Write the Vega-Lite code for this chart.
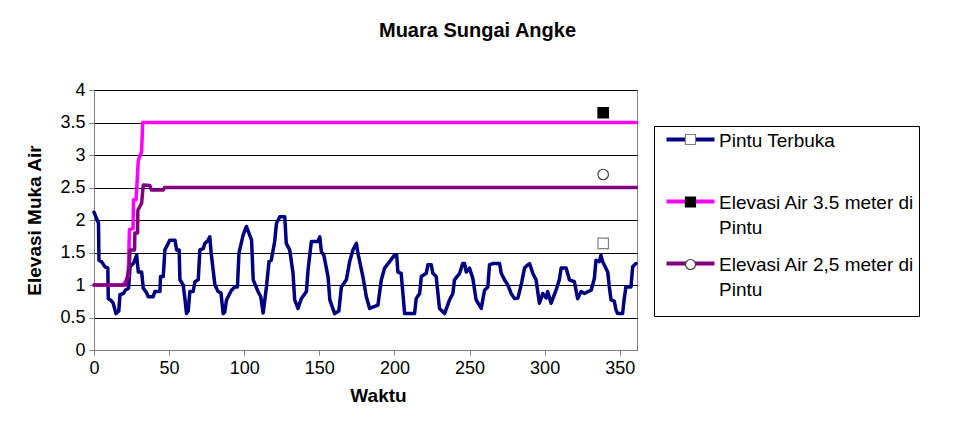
{
  "$schema": "https://vega.github.io/schema/vega-lite/v6.json",
  "width": 543,
  "height": 260,
  "autosize": {"type": "none"},
  "padding": {"left": 94, "top": 90, "right": 317, "bottom": 83},
  "config": {
    "font": "Liberation Sans",
    "view": {"stroke": "#808080", "strokeWidth": 1}
  },
  "title": {
    "text": "Muara Sungai Angke",
    "fontSize": 20,
    "fontWeight": "bold",
    "font": "Liberation Sans",
    "anchor": "middle",
    "dx": 112,
    "offset": 40,
    "color": "#000"
  },
  "datasets": {
    "lines": [
      {"t":0,"elev":2.12,"series":"Pintu Terbuka"},{"t":3,"elev":1.95,"series":"Pintu Terbuka"},{"t":3.3,"elev":1.38,"series":"Pintu Terbuka"},{"t":5,"elev":1.36,"series":"Pintu Terbuka"},{"t":7.3,"elev":1.28,"series":"Pintu Terbuka"},{"t":9.2,"elev":1.26,"series":"Pintu Terbuka"},{"t":9.5,"elev":0.79,"series":"Pintu Terbuka"},{"t":11,"elev":0.77,"series":"Pintu Terbuka"},{"t":12.8,"elev":0.72,"series":"Pintu Terbuka"},{"t":14.6,"elev":0.56,"series":"Pintu Terbuka"},{"t":16.5,"elev":0.6,"series":"Pintu Terbuka"},{"t":17.3,"elev":0.85,"series":"Pintu Terbuka"},{"t":19.7,"elev":0.87,"series":"Pintu Terbuka"},{"t":20.8,"elev":0.92,"series":"Pintu Terbuka"},{"t":23,"elev":0.95,"series":"Pintu Terbuka"},{"t":24,"elev":1.28,"series":"Pintu Terbuka"},{"t":26.2,"elev":1.33,"series":"Pintu Terbuka"},{"t":28.4,"elev":1.46,"series":"Pintu Terbuka"},{"t":29.5,"elev":1.2,"series":"Pintu Terbuka"},{"t":31.7,"elev":1.2,"series":"Pintu Terbuka"},{"t":32.8,"elev":0.95,"series":"Pintu Terbuka"},{"t":35,"elev":0.88,"series":"Pintu Terbuka"},{"t":36.1,"elev":0.82,"series":"Pintu Terbuka"},{"t":39.4,"elev":0.82,"series":"Pintu Terbuka"},{"t":40.5,"elev":0.9,"series":"Pintu Terbuka"},{"t":43.9,"elev":0.9,"series":"Pintu Terbuka"},{"t":44.3,"elev":1.13,"series":"Pintu Terbuka"},{"t":46.1,"elev":1.13,"series":"Pintu Terbuka"},{"t":47.2,"elev":1.54,"series":"Pintu Terbuka"},{"t":49.4,"elev":1.64,"series":"Pintu Terbuka"},{"t":50.5,"elev":1.69,"series":"Pintu Terbuka"},{"t":53.9,"elev":1.69,"series":"Pintu Terbuka"},{"t":55,"elev":1.54,"series":"Pintu Terbuka"},{"t":56.7,"elev":1.54,"series":"Pintu Terbuka"},{"t":57.2,"elev":1.08,"series":"Pintu Terbuka"},{"t":59.4,"elev":1.0,"series":"Pintu Terbuka"},{"t":60.5,"elev":0.79,"series":"Pintu Terbuka"},{"t":61.6,"elev":0.56,"series":"Pintu Terbuka"},{"t":62.7,"elev":0.6,"series":"Pintu Terbuka"},{"t":63.8,"elev":0.9,"series":"Pintu Terbuka"},{"t":66,"elev":0.9,"series":"Pintu Terbuka"},{"t":67.2,"elev":1.05,"series":"Pintu Terbuka"},{"t":69.4,"elev":1.08,"series":"Pintu Terbuka"},{"t":70.5,"elev":1.54,"series":"Pintu Terbuka"},{"t":72.7,"elev":1.56,"series":"Pintu Terbuka"},{"t":73.8,"elev":1.64,"series":"Pintu Terbuka"},{"t":76,"elev":1.69,"series":"Pintu Terbuka"},{"t":77.1,"elev":1.74,"series":"Pintu Terbuka"},{"t":78,"elev":1.49,"series":"Pintu Terbuka"},{"t":80.5,"elev":1.0,"series":"Pintu Terbuka"},{"t":82.6,"elev":0.9,"series":"Pintu Terbuka"},{"t":84.5,"elev":0.88,"series":"Pintu Terbuka"},{"t":86,"elev":0.56,"series":"Pintu Terbuka"},{"t":87,"elev":0.58,"series":"Pintu Terbuka"},{"t":88.2,"elev":0.77,"series":"Pintu Terbuka"},{"t":91.5,"elev":0.92,"series":"Pintu Terbuka"},{"t":93.7,"elev":0.97,"series":"Pintu Terbuka"},{"t":95.5,"elev":0.97,"series":"Pintu Terbuka"},{"t":96.5,"elev":1.49,"series":"Pintu Terbuka"},{"t":99.3,"elev":1.77,"series":"Pintu Terbuka"},{"t":101.5,"elev":1.9,"series":"Pintu Terbuka"},{"t":104.9,"elev":1.69,"series":"Pintu Terbuka"},{"t":106,"elev":1.08,"series":"Pintu Terbuka"},{"t":109.2,"elev":0.9,"series":"Pintu Terbuka"},{"t":111,"elev":0.82,"series":"Pintu Terbuka"},{"t":112.6,"elev":0.57,"series":"Pintu Terbuka"},{"t":114.8,"elev":0.97,"series":"Pintu Terbuka"},{"t":116.5,"elev":1.36,"series":"Pintu Terbuka"},{"t":118,"elev":1.38,"series":"Pintu Terbuka"},{"t":120.3,"elev":1.67,"series":"Pintu Terbuka"},{"t":121.5,"elev":1.95,"series":"Pintu Terbuka"},{"t":123.7,"elev":2.05,"series":"Pintu Terbuka"},{"t":127,"elev":2.05,"series":"Pintu Terbuka"},{"t":128,"elev":1.64,"series":"Pintu Terbuka"},{"t":130.3,"elev":1.54,"series":"Pintu Terbuka"},{"t":132.5,"elev":1.18,"series":"Pintu Terbuka"},{"t":133.6,"elev":0.77,"series":"Pintu Terbuka"},{"t":135.8,"elev":0.64,"series":"Pintu Terbuka"},{"t":138,"elev":0.79,"series":"Pintu Terbuka"},{"t":141.4,"elev":0.9,"series":"Pintu Terbuka"},{"t":142.5,"elev":1.23,"series":"Pintu Terbuka"},{"t":144.7,"elev":1.67,"series":"Pintu Terbuka"},{"t":149,"elev":1.67,"series":"Pintu Terbuka"},{"t":150.3,"elev":1.74,"series":"Pintu Terbuka"},{"t":151.4,"elev":1.51,"series":"Pintu Terbuka"},{"t":153,"elev":1.46,"series":"Pintu Terbuka"},{"t":155.8,"elev":1.13,"series":"Pintu Terbuka"},{"t":157,"elev":0.77,"series":"Pintu Terbuka"},{"t":160.2,"elev":0.56,"series":"Pintu Terbuka"},{"t":163,"elev":0.6,"series":"Pintu Terbuka"},{"t":164.7,"elev":0.97,"series":"Pintu Terbuka"},{"t":168,"elev":1.08,"series":"Pintu Terbuka"},{"t":170.2,"elev":1.36,"series":"Pintu Terbuka"},{"t":172.4,"elev":1.54,"series":"Pintu Terbuka"},{"t":174.7,"elev":1.64,"series":"Pintu Terbuka"},{"t":175.7,"elev":1.49,"series":"Pintu Terbuka"},{"t":179,"elev":1.13,"series":"Pintu Terbuka"},{"t":181.3,"elev":0.82,"series":"Pintu Terbuka"},{"t":183.5,"elev":0.64,"series":"Pintu Terbuka"},{"t":189,"elev":0.69,"series":"Pintu Terbuka"},{"t":191.3,"elev":1.08,"series":"Pintu Terbuka"},{"t":193.5,"elev":1.26,"series":"Pintu Terbuka"},{"t":196.8,"elev":1.36,"series":"Pintu Terbuka"},{"t":200,"elev":1.46,"series":"Pintu Terbuka"},{"t":201.5,"elev":1.46,"series":"Pintu Terbuka"},{"t":202.3,"elev":1.2,"series":"Pintu Terbuka"},{"t":204.5,"elev":1.18,"series":"Pintu Terbuka"},{"t":206.8,"elev":0.56,"series":"Pintu Terbuka"},{"t":213.4,"elev":0.56,"series":"Pintu Terbuka"},{"t":214.5,"elev":0.79,"series":"Pintu Terbuka"},{"t":216.8,"elev":0.87,"series":"Pintu Terbuka"},{"t":217.9,"elev":1.13,"series":"Pintu Terbuka"},{"t":221.2,"elev":1.18,"series":"Pintu Terbuka"},{"t":222.3,"elev":1.31,"series":"Pintu Terbuka"},{"t":224.5,"elev":1.31,"series":"Pintu Terbuka"},{"t":225.6,"elev":1.18,"series":"Pintu Terbuka"},{"t":227.8,"elev":1.13,"series":"Pintu Terbuka"},{"t":230,"elev":0.64,"series":"Pintu Terbuka"},{"t":233.4,"elev":0.56,"series":"Pintu Terbuka"},{"t":236.7,"elev":0.77,"series":"Pintu Terbuka"},{"t":238.9,"elev":0.87,"series":"Pintu Terbuka"},{"t":240,"elev":1.08,"series":"Pintu Terbuka"},{"t":243.4,"elev":1.18,"series":"Pintu Terbuka"},{"t":245.5,"elev":1.33,"series":"Pintu Terbuka"},{"t":246.7,"elev":1.33,"series":"Pintu Terbuka"},{"t":247.8,"elev":1.2,"series":"Pintu Terbuka"},{"t":250,"elev":1.26,"series":"Pintu Terbuka"},{"t":252.2,"elev":1.1,"series":"Pintu Terbuka"},{"t":254.4,"elev":0.77,"series":"Pintu Terbuka"},{"t":257.8,"elev":0.64,"series":"Pintu Terbuka"},{"t":260,"elev":0.92,"series":"Pintu Terbuka"},{"t":262.2,"elev":0.97,"series":"Pintu Terbuka"},{"t":263.3,"elev":1.31,"series":"Pintu Terbuka"},{"t":265.4,"elev":1.33,"series":"Pintu Terbuka"},{"t":270,"elev":1.33,"series":"Pintu Terbuka"},{"t":271.1,"elev":1.18,"series":"Pintu Terbuka"},{"t":273.3,"elev":1.08,"series":"Pintu Terbuka"},{"t":275.5,"elev":1.0,"series":"Pintu Terbuka"},{"t":277.7,"elev":0.87,"series":"Pintu Terbuka"},{"t":280,"elev":0.79,"series":"Pintu Terbuka"},{"t":282.2,"elev":0.8,"series":"Pintu Terbuka"},{"t":284.4,"elev":1.0,"series":"Pintu Terbuka"},{"t":286.6,"elev":1.26,"series":"Pintu Terbuka"},{"t":288.8,"elev":1.31,"series":"Pintu Terbuka"},{"t":290,"elev":1.33,"series":"Pintu Terbuka"},{"t":292.1,"elev":1.18,"series":"Pintu Terbuka"},{"t":294.3,"elev":1.08,"series":"Pintu Terbuka"},{"t":296.5,"elev":0.72,"series":"Pintu Terbuka"},{"t":298.8,"elev":0.87,"series":"Pintu Terbuka"},{"t":301,"elev":0.8,"series":"Pintu Terbuka"},{"t":302,"elev":0.9,"series":"Pintu Terbuka"},{"t":304.3,"elev":0.72,"series":"Pintu Terbuka"},{"t":307.6,"elev":0.92,"series":"Pintu Terbuka"},{"t":309.8,"elev":1.08,"series":"Pintu Terbuka"},{"t":311,"elev":1.26,"series":"Pintu Terbuka"},{"t":314.3,"elev":1.26,"series":"Pintu Terbuka"},{"t":316.5,"elev":1.08,"series":"Pintu Terbuka"},{"t":319.8,"elev":1.05,"series":"Pintu Terbuka"},{"t":322,"elev":0.79,"series":"Pintu Terbuka"},{"t":324.3,"elev":0.9,"series":"Pintu Terbuka"},{"t":326.5,"elev":0.87,"series":"Pintu Terbuka"},{"t":329,"elev":0.9,"series":"Pintu Terbuka"},{"t":331,"elev":0.92,"series":"Pintu Terbuka"},{"t":333.1,"elev":1.1,"series":"Pintu Terbuka"},{"t":334.2,"elev":1.38,"series":"Pintu Terbuka"},{"t":336.4,"elev":1.36,"series":"Pintu Terbuka"},{"t":337.5,"elev":1.46,"series":"Pintu Terbuka"},{"t":338.6,"elev":1.36,"series":"Pintu Terbuka"},{"t":342,"elev":1.2,"series":"Pintu Terbuka"},{"t":343.1,"elev":0.97,"series":"Pintu Terbuka"},{"t":344.2,"elev":0.77,"series":"Pintu Terbuka"},{"t":346.4,"elev":0.75,"series":"Pintu Terbuka"},{"t":347.5,"elev":0.62,"series":"Pintu Terbuka"},{"t":348.6,"elev":0.56,"series":"Pintu Terbuka"},{"t":351.9,"elev":0.56,"series":"Pintu Terbuka"},{"t":353,"elev":0.79,"series":"Pintu Terbuka"},{"t":354.1,"elev":0.97,"series":"Pintu Terbuka"},{"t":357.5,"elev":0.97,"series":"Pintu Terbuka"},{"t":358.6,"elev":1.28,"series":"Pintu Terbuka"},{"t":360.8,"elev":1.33,"series":"Pintu Terbuka"},
      {"t":0,"elev":1.0,"series":"Elevasi Air 3.5 meter di Pintu"},{"t":19.5,"elev":1.0,"series":"Elevasi Air 3.5 meter di Pintu"},{"t":22.8,"elev":1.13,"series":"Elevasi Air 3.5 meter di Pintu"},{"t":23.6,"elev":1.85,"series":"Elevasi Air 3.5 meter di Pintu"},{"t":26,"elev":1.87,"series":"Elevasi Air 3.5 meter di Pintu"},{"t":26.3,"elev":2.31,"series":"Elevasi Air 3.5 meter di Pintu"},{"t":28,"elev":2.31,"series":"Elevasi Air 3.5 meter di Pintu"},{"t":29.5,"elev":2.92,"series":"Elevasi Air 3.5 meter di Pintu"},{"t":31.7,"elev":3.05,"series":"Elevasi Air 3.5 meter di Pintu"},{"t":32.4,"elev":3.5,"series":"Elevasi Air 3.5 meter di Pintu"},{"t":361,"elev":3.5,"series":"Elevasi Air 3.5 meter di Pintu"},
      {"t":0,"elev":1.0,"series":"Elevasi Air 2,5 meter di Pintu"},{"t":21.3,"elev":1.0,"series":"Elevasi Air 2,5 meter di Pintu"},{"t":23.5,"elev":1.3,"series":"Elevasi Air 2,5 meter di Pintu"},{"t":24,"elev":1.54,"series":"Elevasi Air 2,5 meter di Pintu"},{"t":27,"elev":1.54,"series":"Elevasi Air 2,5 meter di Pintu"},{"t":27.2,"elev":1.8,"series":"Elevasi Air 2,5 meter di Pintu"},{"t":29,"elev":1.8,"series":"Elevasi Air 2,5 meter di Pintu"},{"t":29.2,"elev":2.15,"series":"Elevasi Air 2,5 meter di Pintu"},{"t":31.7,"elev":2.26,"series":"Elevasi Air 2,5 meter di Pintu"},{"t":32.8,"elev":2.54,"series":"Elevasi Air 2,5 meter di Pintu"},{"t":37.2,"elev":2.53,"series":"Elevasi Air 2,5 meter di Pintu"},{"t":38.3,"elev":2.46,"series":"Elevasi Air 2,5 meter di Pintu"},{"t":46,"elev":2.46,"series":"Elevasi Air 2,5 meter di Pintu"},{"t":47,"elev":2.5,"series":"Elevasi Air 2,5 meter di Pintu"},{"t":361,"elev":2.5,"series":"Elevasi Air 2,5 meter di Pintu"}
    ],
    "markers": [
      {"t":339,"elev":1.64,"marker":"m1"},
      {"t":339,"elev":3.65,"marker":"m2"},
      {"t":339,"elev":2.7,"marker":"m3"}
    ]
  },
  "encoding": {
    "x": {
      "field": "t", "type": "quantitative",
      "scale": {"domain": [0, 361.5], "nice": false, "zero": false},
      "axis": {
        "values": [0, 50, 100, 150, 200, 250, 300, 350],
        "grid": false,
        "title": "Waktu",
        "titleFontSize": 19, "titleFontWeight": "bold", "titleColor": "#000", "titlePadding": 9, "titleX": 284,
        "labelFontSize": 18, "labelColor": "#000", "labelPadding": 4,
        "tickSize": 5, "tickColor": "#808080", "domainColor": "#808080",
        "labelFlush": false
      }
    },
    "y": {
      "field": "elev", "type": "quantitative",
      "scale": {"domain": [0, 4], "nice": false},
      "axis": {
        "values": [0, 0.5, 1, 1.5, 2, 2.5, 3, 3.5, 4],
        "format": "~g",
        "labelOverlap": false,
        "grid": true, "gridColor": "#000", "gridWidth": 1,
        "title": "Elevasi Muka Air",
        "titleFontSize": 19, "titleFontWeight": "bold", "titleColor": "#000", "titlePadding": 15,
        "labelFontSize": 18, "labelColor": "#000", "labelPadding": 4,
        "tickSize": 5, "tickColor": "#808080", "domainColor": "#808080"
      }
    }
  },
  "layer": [
    {
      "data": {"name": "lines"},
      "mark": {"type": "line", "strokeWidth": 3.5, "strokeJoin": "round", "strokeCap": "round"},
      "encoding": {
        "color": {
          "field": "series", "type": "nominal",
          "scale": {
            "domain": ["Pintu Terbuka", "Elevasi Air 3.5 meter di Pintu", "Elevasi Air 2,5 meter di Pintu"],
            "range": ["#000080", "#FF00FF", "#800080"]
          },
          "legend": {
            "orient": "none", "legendX": 560, "legendY": 36, "zindex": 0,
            "title": "\u00a0", "titleOrient": "bottom", "titleFontSize": 10, "titlePadding": 2,
            "symbolType": "M-4.8,0L4.8,0", "symbolSize": 100, "symbolStrokeWidth": 4, "symbolOffset": 23,
            "labelFontSize": 19, "labelColor": "#000", "labelOffset": 19, "labelLimit": 400,
            "labelBaseline": "top",
            "labelExpr": "datum.label == 'Pintu Terbuka' ? 'Pintu Terbuka' : [substring(datum.label, 0, 24) + '\u00a0\u00a0\u00a0\u00a0\u00a0\u00a0\u00a0\u00a0\u00a0', 'Pintu']",
            "padding": 4, "strokeColor": "#000",
            "rowPadding": 16, "gridAlign": "all",
            "encode": {"labels": {"update": {"lineHeight": {"value": 25}, "dy": {"value": -8}}}}
          }
        }
      }
    },
    {
      "data": {"name": "markers"},
      "mark": {"type": "point", "filled": false, "strokeWidth": 1.2, "opacity": 1, "size": 110},
      "encoding": {
        "shape": {
          "field": "marker", "type": "nominal",
          "scale": {"domain": ["m1", "m2", "m3"], "range": ["square", "square", "circle"]},
          "legend": {
            "orient": "none", "legendX": 560, "legendY": 36, "zindex": 1,
            "title": null,
            "symbolSize": 100, "symbolStrokeWidth": 1.2, "symbolOffset": 23,
            "labelFontSize": 19, "labelOpacity": 0, "labelOffset": 19, "labelLimit": 400,
            "labelBaseline": "top",
            "labelExpr": "datum.label == 'm1' ? '\u00a0' : ['\u00a0', '\u00a0']",
            "padding": 4,
            "rowPadding": 12.5, "gridAlign": "all",
            "encode": {"labels": {"update": {"lineHeight": {"value": 25}, "dy": {"value": -8}}}}
          }
        },
        "fill": {
          "field": "marker", "type": "nominal",
          "scale": {"domain": ["m1", "m2", "m3"], "range": ["#ffffff", "#000000", "#ffffff"]}
        },
        "stroke": {
          "field": "marker", "type": "nominal",
          "scale": {"domain": ["m1", "m2", "m3"], "range": ["#808080", "#000000", "#404040"]}
        }
      }
    }
  ]
}
